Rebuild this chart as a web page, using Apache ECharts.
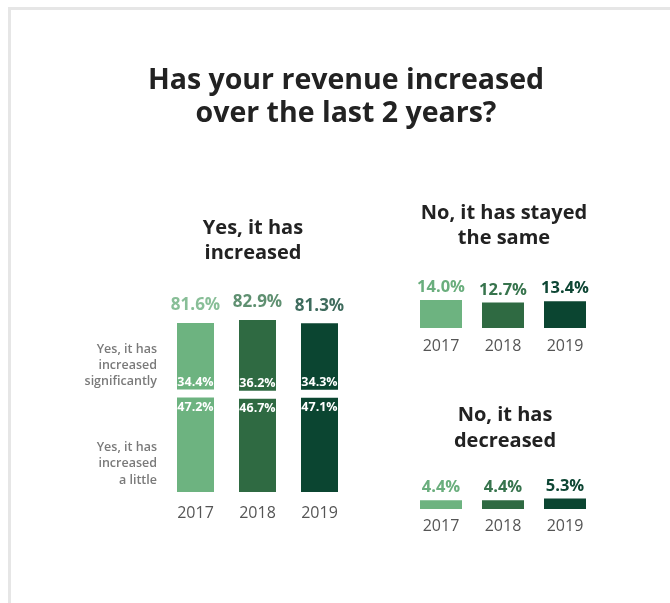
<!DOCTYPE html>
<html>
<head>
<meta charset="utf-8">
<script src="https://cdn.jsdelivr.net/npm/echarts@6/dist/echarts.min.js"></script>
<style>
  html, body { margin: 0; padding: 0; background: #ffffff; }
  #chart { width: 670px; height: 603px; }
</style>
</head>
<body>
<div id="chart"></div>
<script>
// Survey years and answer shares (percent of respondents)
const years = ['2017', '2018', '2019'];
const increasedSignificantly = [34.4, 36.2, 34.3];
const increasedALittle = [47.2, 46.7, 47.1];
const increasedTotal = [81.6, 82.9, 81.3];
const stayedSame = [14.0, 12.7, 13.4];
const decreased = [4.4, 4.4, 5.3];

const yearColors = ['#6db380', '#2f6a42', '#0b4531'];
const yearTextColors = ['#6aae7d', '#37744d', '#0e4634'];
const FONT = '"Open Sans", "Noto Sans", sans-serif';

const pct = v => v.toFixed(1) + '%';
const colored = (arr, colors) => arr.map((v, i) => ({ value: v, itemStyle: { color: colors[i] } }));
const coloredLabel = arr => arr.map((v, i) => ({ value: v, label: { color: yearTextColors[i] } }));

function categoryAxis(gridIndex, margin) {
  return {
    type: 'category', gridIndex, data: years,
    axisLine: { show: false }, axisTick: { show: false },
    axisLabel: { fontSize: 16, color: '#555', fontFamily: FONT, margin }
  };
}
function valueAxis(gridIndex, max) {
  return { type: 'value', gridIndex, min: 0, max, show: false };
}

const chart = echarts.init(document.getElementById('chart'), null, { renderer: 'canvas' });

chart.setOption({
  animation: false,
  backgroundColor: '#ffffff',
  grid: [
    { left: 164.5, width: 186, top: 279, height: 217 },
    { left: 410, width: 186, top: 228, height: 100 },
    { left: 410, width: 186, top: 409, height: 100 }
  ],
  xAxis: [categoryAxis(0, 9), categoryAxis(1, 10), categoryAxis(2, 9)],
  yAxis: [valueAxis(0, 100), valueAxis(1, 50), valueAxis(2, 50)],
  graphic: [
    // card frame
    { type: 'rect', shape: { x: 8, y: 7, width: 662, height: 3 }, style: { fill: '#e6e6e6' }, silent: true },
    { type: 'rect', shape: { x: 8, y: 7, width: 3, height: 596 }, style: { fill: '#e6e6e6' }, silent: true },
    // headings
    { type: 'text', x: 346, y: 97, style: { text: 'Has your revenue increased\nover the last 2 years?', textAlign: 'center', textVerticalAlign: 'middle', fontSize: 28.5, fontWeight: 'bold', lineHeight: 33, fill: '#222', fontFamily: FONT } },
    { type: 'text', x: 253, y: 241, style: { text: 'Yes, it has\nincreased', textAlign: 'center', textVerticalAlign: 'middle', fontSize: 20, fontWeight: 'bold', lineHeight: 25, fill: '#222', fontFamily: FONT } },
    { type: 'text', x: 504, y: 226, style: { text: 'No, it has stayed\nthe same', textAlign: 'center', textVerticalAlign: 'middle', fontSize: 20, fontWeight: 'bold', lineHeight: 25, fill: '#222', fontFamily: FONT } },
    { type: 'text', x: 505, y: 428.5, style: { text: 'No, it has\ndecreased', textAlign: 'center', textVerticalAlign: 'middle', fontSize: 20, fontWeight: 'bold', lineHeight: 26, fill: '#222', fontFamily: FONT } },
    // row labels for the stacked segments
    { type: 'text', x: 157, y: 365, style: { text: 'Yes, it has\nincreased\nsignificantly', textAlign: 'right', textVerticalAlign: 'middle', fontSize: 12.5, fontWeight: 600, lineHeight: 16, fill: '#7a7a7a', fontFamily: FONT } },
    { type: 'text', x: 157, y: 463.5, style: { text: 'Yes, it has\nincreased\na little', textAlign: 'right', textVerticalAlign: 'middle', fontSize: 12.5, fontWeight: 600, lineHeight: 16.5, fill: '#7a7a7a', fontFamily: FONT } }
  ],
  series: [
    {
      name: 'Yes, it has increased a little', type: 'bar', stack: 'increased',
      xAxisIndex: 0, yAxisIndex: 0, barWidth: 45,
      data: colored(increasedALittle, yearColors),
      itemStyle: { borderColor: '#ffffff', borderWidth: 4 },
      label: { show: true, position: 'insideTop', distance: 7, color: '#ffffff', fontSize: 12.5, fontWeight: 'bold', fontFamily: FONT, formatter: p => pct(p.value) }
    },
    {
      name: 'Yes, it has increased significantly', type: 'bar', stack: 'increased',
      xAxisIndex: 0, yAxisIndex: 0, barWidth: 45,
      data: colored(increasedSignificantly, yearColors),
      itemStyle: { borderColor: '#ffffff', borderWidth: 4 },
      label: { show: true, position: 'insideBottom', distance: 5, color: '#ffffff', fontSize: 12.5, fontWeight: 'bold', fontFamily: FONT, formatter: p => pct(p.value) }
    },
    {
      name: 'Yes, it has increased', type: 'scatter',
      xAxisIndex: 0, yAxisIndex: 0, symbolSize: 0,
      data: coloredLabel(increasedTotal),
      label: { show: true, position: 'top', distance: 5, fontSize: 17, fontWeight: 'bold', fontFamily: FONT, formatter: p => pct(p.value) }
    },
    {
      name: 'No, it has stayed the same', type: 'bar',
      xAxisIndex: 1, yAxisIndex: 1, barWidth: 42,
      data: colored(stayedSame, yearColors).map((d, i) => ({ ...d, label: { color: yearTextColors[i] } })),
      label: { show: true, position: 'top', distance: 4, fontSize: 16.5, fontWeight: 'bold', fontFamily: FONT, formatter: p => pct(p.value) }
    },
    {
      name: 'No, it has decreased', type: 'bar',
      xAxisIndex: 2, yAxisIndex: 2, barWidth: 42,
      data: colored(decreased, yearColors).map((d, i) => ({ ...d, label: { color: yearTextColors[i] } })),
      label: { show: true, position: 'top', distance: 4, fontSize: 16.5, fontWeight: 'bold', fontFamily: FONT, formatter: p => pct(p.value) }
    }
  ]
});
</script>
</body>
</html>
